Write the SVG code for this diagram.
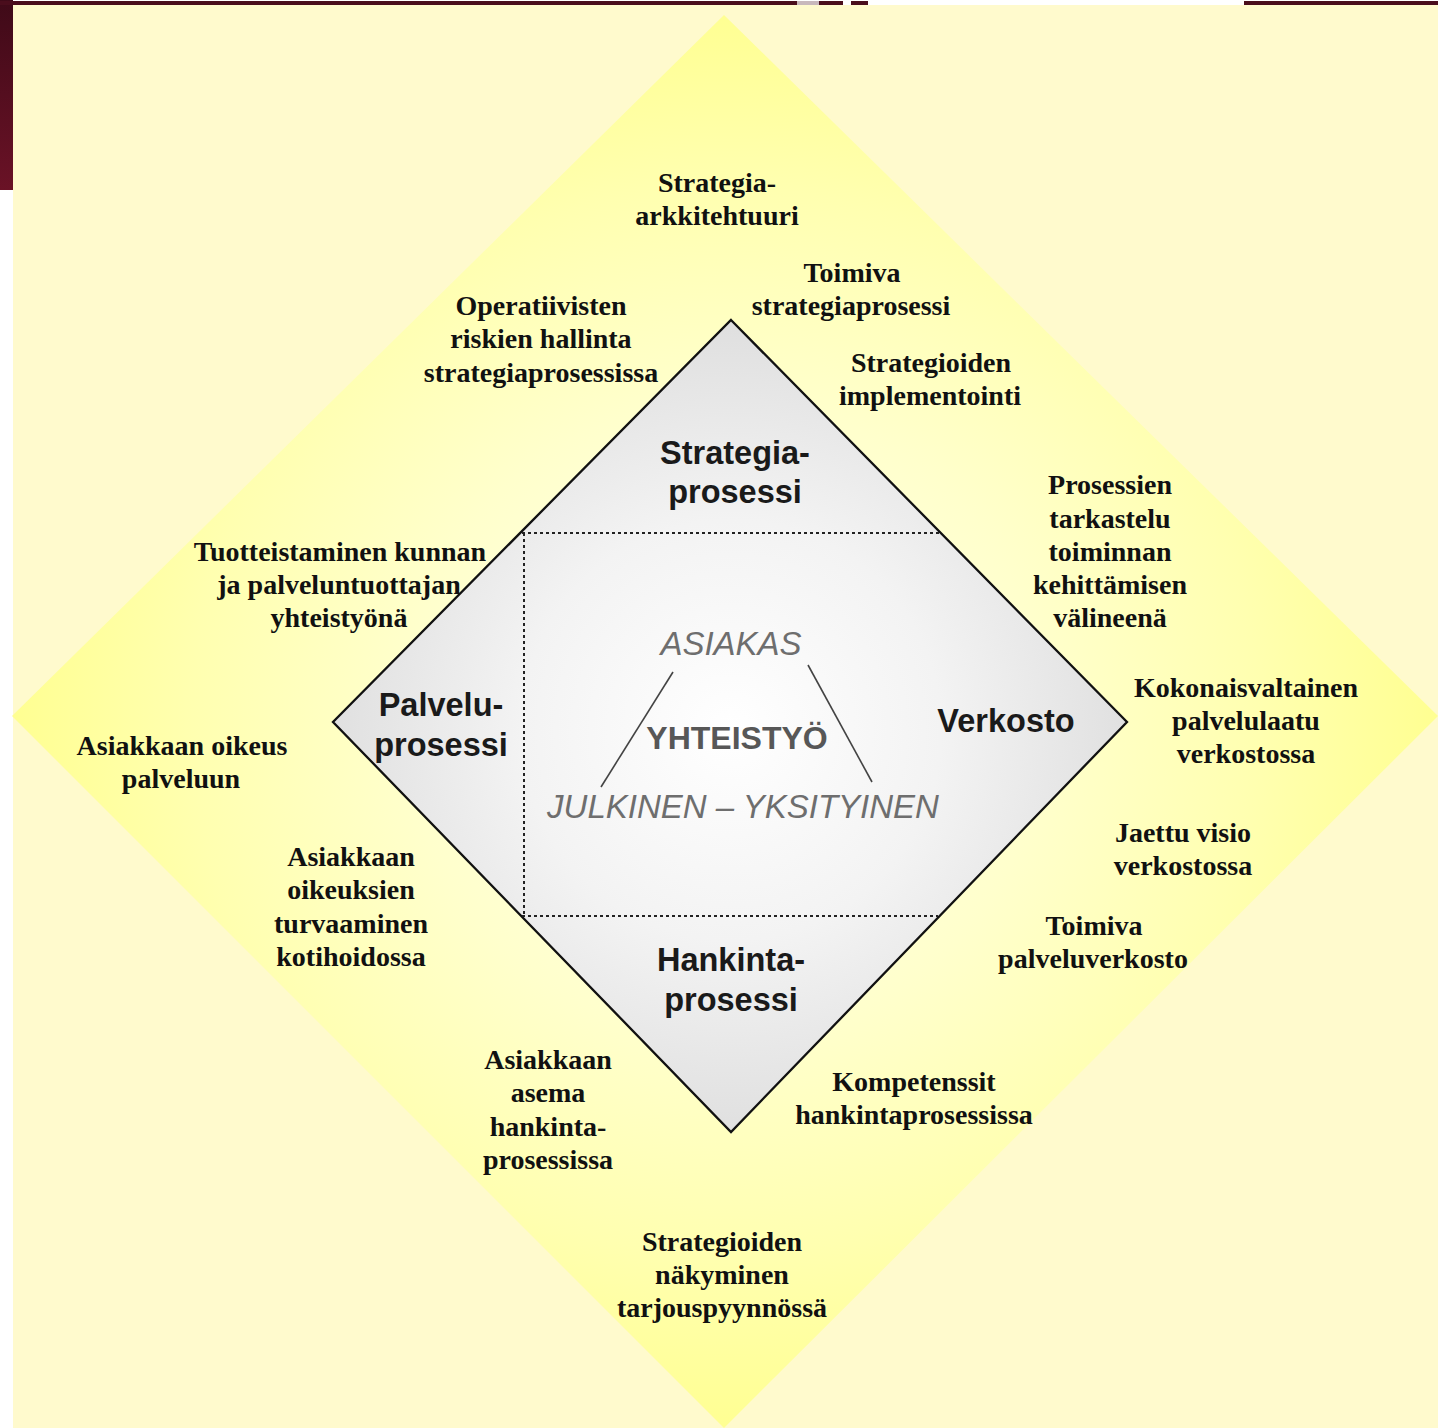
<svg xmlns="http://www.w3.org/2000/svg" width="1438" height="1428" viewBox="0 0 1438 1428">
<defs>
<radialGradient id="yellowGlow" gradientUnits="userSpaceOnUse" cx="725" cy="720" r="710">
<stop offset="0" stop-color="#ffffee"/>
<stop offset="0.45" stop-color="#ffffcc"/>
<stop offset="0.75" stop-color="#ffffb0"/>
<stop offset="1" stop-color="#ffff92"/>
</radialGradient>
<radialGradient id="grayGlow" gradientUnits="userSpaceOnUse" cx="731" cy="730" r="420">
<stop offset="0" stop-color="#ffffff"/>
<stop offset="0.5" stop-color="#f3f3f3"/>
<stop offset="1" stop-color="#dedede"/>
</radialGradient>
<linearGradient id="redBar" x1="0" y1="0" x2="0" y2="1">
<stop offset="0" stop-color="#3f0a18"/>
<stop offset="1" stop-color="#6a1226"/>
</linearGradient>
</defs>
<style>
.outer{font-family:"Liberation Serif","Times New Roman",serif;font-weight:bold;font-size:28px;fill:#111;text-anchor:middle}
.inner{font-family:"Liberation Sans",Arial,sans-serif;font-weight:bold;font-size:32.5px;fill:#1a1a1a;text-anchor:middle}
.ital{font-family:"Liberation Sans",Arial,sans-serif;font-style:italic;font-size:33px;fill:#6e6e6e;text-anchor:middle}
.coop{font-family:"Liberation Sans",Arial,sans-serif;font-weight:bold;font-size:32px;fill:#575757;text-anchor:middle}
.dots{stroke:#222;stroke-width:2;stroke-dasharray:3 3;fill:none}
.conn{stroke:#444;stroke-width:1.6;fill:none}
</style>

<!-- background -->
<rect x="0" y="0" width="1438" height="1428" fill="#ffffff"/>
<rect x="13" y="5" width="1425" height="1423" fill="#fffacd"/>
<rect x="0" y="0" width="13" height="190" fill="url(#redBar)"/>
<rect x="0" y="1" width="797" height="4" fill="#4a0d1c"/>
<rect x="797" y="1" width="22" height="4" fill="#c8b8bc"/>
<rect x="819" y="1" width="24" height="4" fill="#4a0d1c"/>
<rect x="851" y="1" width="17" height="4" fill="#4a0d1c"/>
<rect x="1244" y="1" width="194" height="4" fill="#4a0d1c"/>

<!-- outer yellow diamond -->
<g id="outer-diamond">
<polygon points="724,15 1438,716 724,1428 12,716" fill="url(#yellowGlow)"/>
</g>

<!-- inner diamond -->
<g id="inner-diamond">
<polygon points="731,320 1127,722 731,1132 333,722" fill="url(#grayGlow)" stroke="#111" stroke-width="2.3" stroke-linejoin="miter"/>
</g>

<!-- dotted section lines and center lines -->
<g id="connectors">
<path class="dots" d="M522,533 H941"/>
<path class="dots" d="M524,533 V916"/>
<path class="dots" d="M522,916 H938"/>
<line class="conn" x1="673" y1="672" x2="601" y2="787"/>
<line class="conn" x1="808" y1="665" x2="872" y2="782"/>
</g>

<!-- inner labels -->
<g id="node-strategiaprosessi"><text class="inner" x="735" y="464">Strategia-</text><text class="inner" x="735" y="503">prosessi</text></g>
<g id="node-palveluprosessi"><text class="inner" x="441" y="716">Palvelu-</text><text class="inner" x="441" y="756">prosessi</text></g>
<g id="node-verkosto"><text class="inner" x="1006" y="732">Verkosto</text></g>
<g id="node-hankintaprosessi"><text class="inner" x="731" y="971">Hankinta-</text><text class="inner" x="731" y="1011">prosessi</text></g>

<!-- center -->
<g id="node-asiakas"><text class="ital" x="731" y="655">ASIAKAS</text></g>
<g id="node-yhteistyo"><text class="coop" x="737" y="749">YHTEISTYÖ</text></g>
<g id="node-julkinen-yksityinen"><text class="ital" x="743" y="818">JULKINEN – YKSITYINEN</text></g>

<!-- outer labels -->
<g id="t-strategia-arkkitehtuuri"><text class="outer" x="717" y="192">Strategia-</text><text class="outer" x="717" y="225">arkkitehtuuri</text></g>
<g id="t-toimiva-strategiaprosessi"><text class="outer" x="852" y="282">Toimiva</text><text class="outer" x="851" y="315">strategiaprosessi</text></g>
<g id="t-operatiivisten"><text class="outer" x="541" y="315">Operatiivisten</text><text class="outer" x="541" y="348">riskien hallinta</text><text class="outer" x="541" y="382">strategiaprosessissa</text></g>
<g id="t-strategioiden-implementointi"><text class="outer" x="931" y="372">Strategioiden</text><text class="outer" x="930" y="405">implementointi</text></g>
<g id="t-prosessien-tarkastelu"><text class="outer" x="1110" y="494">Prosessien</text><text class="outer" x="1110" y="528">tarkastelu</text><text class="outer" x="1110" y="561">toiminnan</text><text class="outer" x="1110" y="594">kehittämisen</text><text class="outer" x="1110" y="627">välineenä</text></g>
<g id="t-tuotteistaminen"><text class="outer" x="340" y="561">Tuotteistaminen kunnan</text><text class="outer" x="339" y="594">ja palveluntuottajan</text><text class="outer" x="339" y="627">yhteistyönä</text></g>
<g id="t-kokonaisvaltainen"><text class="outer" x="1246" y="697">Kokonaisvaltainen</text><text class="outer" x="1246" y="730">palvelulaatu</text><text class="outer" x="1246" y="763">verkostossa</text></g>
<g id="t-asiakkaan-oikeus"><text class="outer" x="182" y="755">Asiakkaan oikeus</text><text class="outer" x="181" y="788">palveluun</text></g>
<g id="t-jaettu-visio"><text class="outer" x="1183" y="842">Jaettu visio</text><text class="outer" x="1183" y="875">verkostossa</text></g>
<g id="t-asiakkaan-oikeuksien"><text class="outer" x="351" y="866">Asiakkaan</text><text class="outer" x="351" y="899">oikeuksien</text><text class="outer" x="351" y="933">turvaaminen</text><text class="outer" x="351" y="966">kotihoidossa</text></g>
<g id="t-toimiva-palveluverkosto"><text class="outer" x="1094" y="935">Toimiva</text><text class="outer" x="1093" y="968">palveluverkosto</text></g>
<g id="t-asiakkaan-asema"><text class="outer" x="548" y="1069">Asiakkaan</text><text class="outer" x="548" y="1102">asema</text><text class="outer" x="548" y="1136">hankinta-</text><text class="outer" x="548" y="1169">prosessissa</text></g>
<g id="t-kompetenssit"><text class="outer" x="914" y="1091">Kompetenssit</text><text class="outer" x="914" y="1124">hankintaprosessissa</text></g>
<g id="t-strategioiden-nakyminen"><text class="outer" x="722" y="1251">Strategioiden</text><text class="outer" x="722" y="1284">näkyminen</text><text class="outer" x="722" y="1317">tarjouspyynnössä</text></g>
</svg>
